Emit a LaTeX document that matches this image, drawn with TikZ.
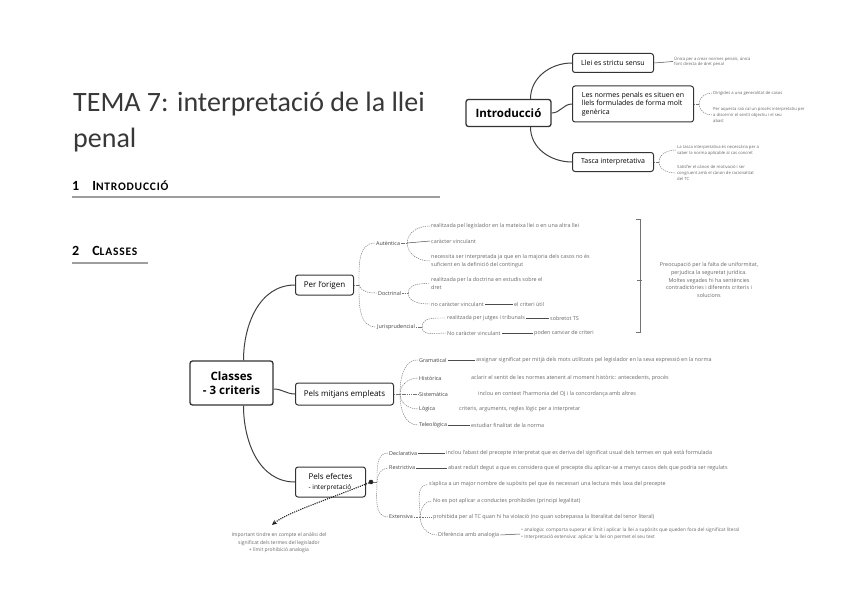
\documentclass[tikz,border=0pt]{standalone}
\usepackage{fontspec}
\setmainfont{Carlito}
\newfontfamily\headfont[LetterSpace=7]{Carlito}
\newfontfamily\mapfont{Open Sans}
\usetikzlibrary{positioning,arrows.meta,calc}
\tikzset{
  mindmap/.style={x=1pt,y=1pt,
    box/.style={draw=black!80,line width=1pt,rounded corners=2.5pt,fill=white,inner sep=3pt,align=left,
      font=\mapfont\fontsize{8}{10}\selectfont},
    smallbox/.style={box,font=\mapfont\fontsize{7}{8.8}\selectfont},
    topic/.style={box,line width=1.3pt,align=center,font=\mapfont\bfseries\fontsize{11.5}{13.5}\selectfont},
    lbl/.style={anchor=west,inner sep=1pt,align=left,text=black!75,font=\mapfont\fontsize{5.4}{7.6}\selectfont},
    note/.style={lbl,text=black!60},
    tinynote/.style={note,font=\mapfont\fontsize{4.2}{5.8}\selectfont},
    branch/.style={draw=black!75,line width=1pt},
    twig/.style={draw=black!55,line width=0.45pt,dash pattern=on 1.3pt off 0.9pt},
    tie/.style={draw=black!70,line width=0.5pt},
    pointer/.style={draw=black!90,line width=1.1pt,dash pattern=on 1.1pt off 1.1pt,-{Stealth[length=5pt,width=4.5pt]}},
    heading/.style={anchor=base west,inner sep=0,font=\headfont\bfseries\fontsize{14}{16}\selectfont},
    headrule/.style={draw=black!38,line width=1.4pt},
  },
}

\begin{document}
\begin{tikzpicture}[mindmap]
\useasboundingbox (0,0) rectangle (848,-599);

\node[anchor=base west,inner sep=0,text=black!78,font=\fontsize{28}{34}\selectfont] (title) at (73,-112) {TEMA 7: interpretació de la llei};
\node[anchor=base west,inner sep=0,text=black!78,font=\fontsize{28}{34}\selectfont] (title2) at (73,-147) {penal};
\node[heading] (sec1) at (72,-190) {1\hspace{13pt}I{\fontsize{11.5}{14}\selectfont NTRODUCCIÓ}};
\draw[headrule] (72,-197) -- (440,-197);
\node[heading] (sec2) at (72,-255) {2\hspace{13pt}C{\fontsize{11.5}{14}\selectfont LASSES}};
\draw[headrule] (72,-263) -- (148,-263);

% introduccio
\node[topic,minimum width=85pt,minimum height=27pt] (intro) at (508.5,-113) {Introducció};
\node[smallbox,anchor=west,minimum width=81pt,minimum height=19pt] (llei) at (572,-63) {Llei es strictu sensu};
\node[smallbox,anchor=west,minimum width=121pt,minimum height=36pt] (normes) at (572,-104) {Les normes penals es situen en\\llels formulades de forma molt\\genèrica};
\node[smallbox,anchor=west,minimum width=81pt,minimum height=19pt] (tasca) at (572,-162) {Tasca interpretativa};
\draw[branch] ([xshift=22pt]intro.north) to[out=90,in=180] (llei.west);
\draw[branch] (intro.east) to[out=0,in=180] (normes.west);
\draw[branch] ([xshift=22pt]intro.south) to[out=-90,in=180] (tasca.west);

\node[tinynote] (lleiT) at (673,-61.5) {Única per a crear normes penals, única\\font directa de dret penal};
\draw[tie] (llei.east) -- (lleiT.west);

\node[tinynote] (norm1) at (712,-93) {Dirigides a una generalitat de casos};
\node[tinynote] (norm2) at (712,-115) {Per aquesta raó cal un procés interpretatiu per\\a discernir el sentit objectiu i el seu\\abast};
\draw[twig] (normes.east) -- ++(5,0) coordinate (nj);
\draw[twig] (nj) to[out=90,in=180] (norm1.west);
\draw[twig] (nj) to[out=-90,in=180] (norm2.west);

\node[tinynote] (tasc1) at (676,-150) {La tasca interpretativa és necessària per a\\saber la norma aplicable al cas concret};
\node[tinynote] (tasc2) at (676,-173) {Satisfer el cànon de motivació i ser\\congruent amb el cànon de racionalitat\\del TC};
\draw[twig] (tasca.east) -- ++(5,0) coordinate (tj);
\draw[twig] (tj) to[out=90,in=180] (tasc1.west);
\draw[twig] (tj) to[out=-90,in=180] (tasc2.west);

% classes
\node[topic,minimum width=83pt,minimum height=44pt] (classes) at (231.5,-383) {Classes\\- 3 criteris};
\node[box,anchor=west,minimum width=58pt,minimum height=20pt] (orig) at (295,-285) {Per l’origen};
\node[box,anchor=west,minimum width=98pt,minimum height=22pt] (mitjans) at (295,-394) {Pels mitjans empleats};
\node[box,anchor=west,minimum width=70pt,minimum height=30pt] (efectes) at (295,-482) {Pels efectes\\{\fontsize{6.5}{8}\selectfont - interpretació}};
\draw[branch] ([xshift=12pt]classes.north) to[out=90,in=180] (orig.west);
\draw[branch] ([yshift=-6pt]classes.east) to[out=0,in=180] (mitjans.west);
\draw[branch] ([xshift=12pt]classes.south) to[out=-90,in=180] (efectes.west);

% per l'origen
\node[lbl] (aut) at (375,-243) {Autèntica};
\node[lbl] (doc) at (377,-293) {Doctrinal};
\node[lbl] (jur) at (376,-327) {Jurisprudencial};
\draw[twig] (orig.east) -- ++(5,0) coordinate (oj);
\draw[twig] (oj) to[out=90,in=180] (aut.west);
\draw[twig] (oj) to[out=-70,in=180] (doc.west);
\draw[twig] (oj) to[out=-90,in=180] (jur.west);

\node[note] (aut1) at (430,-226) {realitzada pel legislador en la mateixa llei o en una altra llei};
\node[note] (aut2) at (430,-241) {caràcter vinculant};
\node[note] (aut3) at (430,-261) {necessita ser interpretada ja que en la majoria dels casos no és\\suficient en la definició del contingut};
\draw[twig] (aut.east) -- ++(6,0) coordinate (aj);
\draw[twig] (aj) to[out=90,in=180] (aut1.west);
\draw[tie] (aj) -- (aut2.west);
\draw[twig] (aj) to[out=-90,in=180] (aut3.west);

\node[note] (doc1) at (430,-283.5) {realitzada per la doctrina en estudis sobre el\\dret};
\node[note] (doc2) at (430,-304) {no caràcter vinculant};
\node[note] (doc2b) at (513,-304) {el criteri útil};
\draw[twig] (doc.east) -- ++(6,0) coordinate (dj);
\draw[twig] (dj) to[out=90,in=180] (doc1.west);
\draw[twig] (dj) to[out=-90,in=180] (doc2.west);
\draw[tie] (doc2.east) -- (doc2b.west);

\node[note] (jur1) at (446,-318) {realitzada per jutges i tribunals};
\node[note] (jur1b) at (549,-318) {sobretot TS};
\node[note] (jur2) at (446,-333) {No caràcter vinculant};
\node[note] (jur2b) at (533,-333) {poden canviar de criteri};
\draw[twig] (jur.east) -- ++(6,0) coordinate (jj);
\draw[twig] (jj) to[out=90,in=180] (jur1.west);
\draw[twig] (jj) to[out=-90,in=180] (jur2.west);
\draw[tie] (jur1.east) -- (jur1b.west);
\draw[tie] (jur2.east) -- (jur2b.west);

\draw[tie,draw=black!55] (636,-219) -- (640,-219) -- (640,-332) -- (636,-332);
\draw[tie,draw=black!55] (637,-280) -- (642,-280);
\node[note,anchor=center,align=center] (preoc) at (709,-280) {Preocupació per la falta de uniformitat,\\perjudica la seguretat jurídica.\\Moltes vegades hi ha sentències\\contradictòries i diferents criteris i\\solucions};

% pels mitjans empleats
\node[lbl] (gram) at (418,-360) {Gramatical};
\node[lbl] (hist) at (418,-378) {Històrica};
\node[lbl] (sist) at (418,-394) {Sistemàtica};
\node[lbl] (logi) at (418,-409) {Lògica};
\node[lbl] (tele) at (418,-425) {Teleològica};
\draw[twig] (mitjans.east) -- ++(6,0) coordinate (mj);
\draw[twig] (mj) to[out=90,in=180] (gram.west);
\draw[twig] (mj) to[out=90,in=180] (hist.west);
\draw[twig] (mj) -- (sist.west);
\draw[twig] (mj) to[out=-90,in=180] (logi.west);
\draw[twig] (mj) to[out=-90,in=180] (tele.west);

\node[note] (gramT) at (475,-360) {assignar significat per mitjà dels mots utilitzats pel legislador en la seva expressió en la norma};
\node[note] (histT) at (470,-378) {aclarir el sentit de les normes atenent al moment històric: antecedents, procés};
\node[note] (sistT) at (477,-394) {inclou en context l’harmonia del OJ i la concordança amb altres};
\node[note] (logiT) at (458,-409) {criteris, arguments, regles lògic per a interpretar};
\node[note] (teleT) at (470,-425) {estudiar finalitat de la norma};
\draw[tie] (gram.east) -- (gramT.west);
\draw[tie] (tele.east) -- (teleT.west);

% pels efectes
\coordinate (dot) at ([xshift=5pt]efectes.east);
\node[lbl] (decl) at (388,-453) {Declarativa};
\node[lbl] (restr) at (388,-468) {Restrictiva};
\node[lbl] (ext) at (388,-517) {Extensiva};
\draw[twig] (dot) -- ++(6,0) coordinate (ej);
\draw[twig] (ej) to[out=90,in=180] (decl.west);
\draw[twig] (ej) to[out=90,in=180] (restr.west);
\draw[twig] (ej) to[out=-90,in=180] (ext.west);

\node[note] (declT) at (445,-453) {inclou l’abast del precepte interpretat que es deriva del significat usual dels termes en què està formulada};
\node[note] (restrT) at (447,-468) {abast reduït degut a que es considera que el precepte diu aplicar-se a menys casos dels que podria ser regulats};
\draw[tie] (decl.east) -- (declT.west);
\draw[tie] (restr.east) -- (restrT.west);

\node[note] (ext1) at (428,-484.5) {s’aplica a un major nombre de supòsits pel que és necessari una lectura més laxa del precepte};
\node[note] (ext2) at (432,-501) {No es pot aplicar a conductes prohibides (principi legalitat)};
\node[note] (ext3) at (432,-517) {prohibida per al TC quan hi ha violació (no quan sobrepassa la literalitat del tenor literal)};
\node[note] (ext4) at (437,-535) {Diferència amb analogia};
\node[note,font=\mapfont\fontsize{4.8}{7}\selectfont] (ext4T) at (520,-534) {• analogia: comporta superar el límit i aplicar la llei a supòsits que queden fora del significat literal\\• Interpretació extensiva: aplicar la llei on permet el seu text};
\draw[twig] (ext.east) -- ++(6,0) coordinate (xj);
\draw[twig] (xj) to[out=90,in=180] (ext1.west);
\draw[twig] (xj) to[out=90,in=180] (ext2.west);
\draw[twig] (xj) -- (ext3.west);
\draw[twig] (xj) to[out=-90,in=180] (ext4.west);
\draw[tie] (ext4.east) -- (ext4T.west);

\node[note,anchor=center,align=center,font=\mapfont\fontsize{5}{7.4}\selectfont] (impnote) at (279,-543) {Important tindre en compte el anàlisi del\\significat dels termes del legislador\\+ límit prohibició analogia};
\coordinate (notetip) at ([xshift=-7pt,yshift=7pt]impnote.north);
\draw[pointer] (dot) .. controls +(-50,-20) and +(15,12) .. (notetip);
\fill[black!85] (dot) circle (2.3pt);
\end{tikzpicture}
\end{document}
